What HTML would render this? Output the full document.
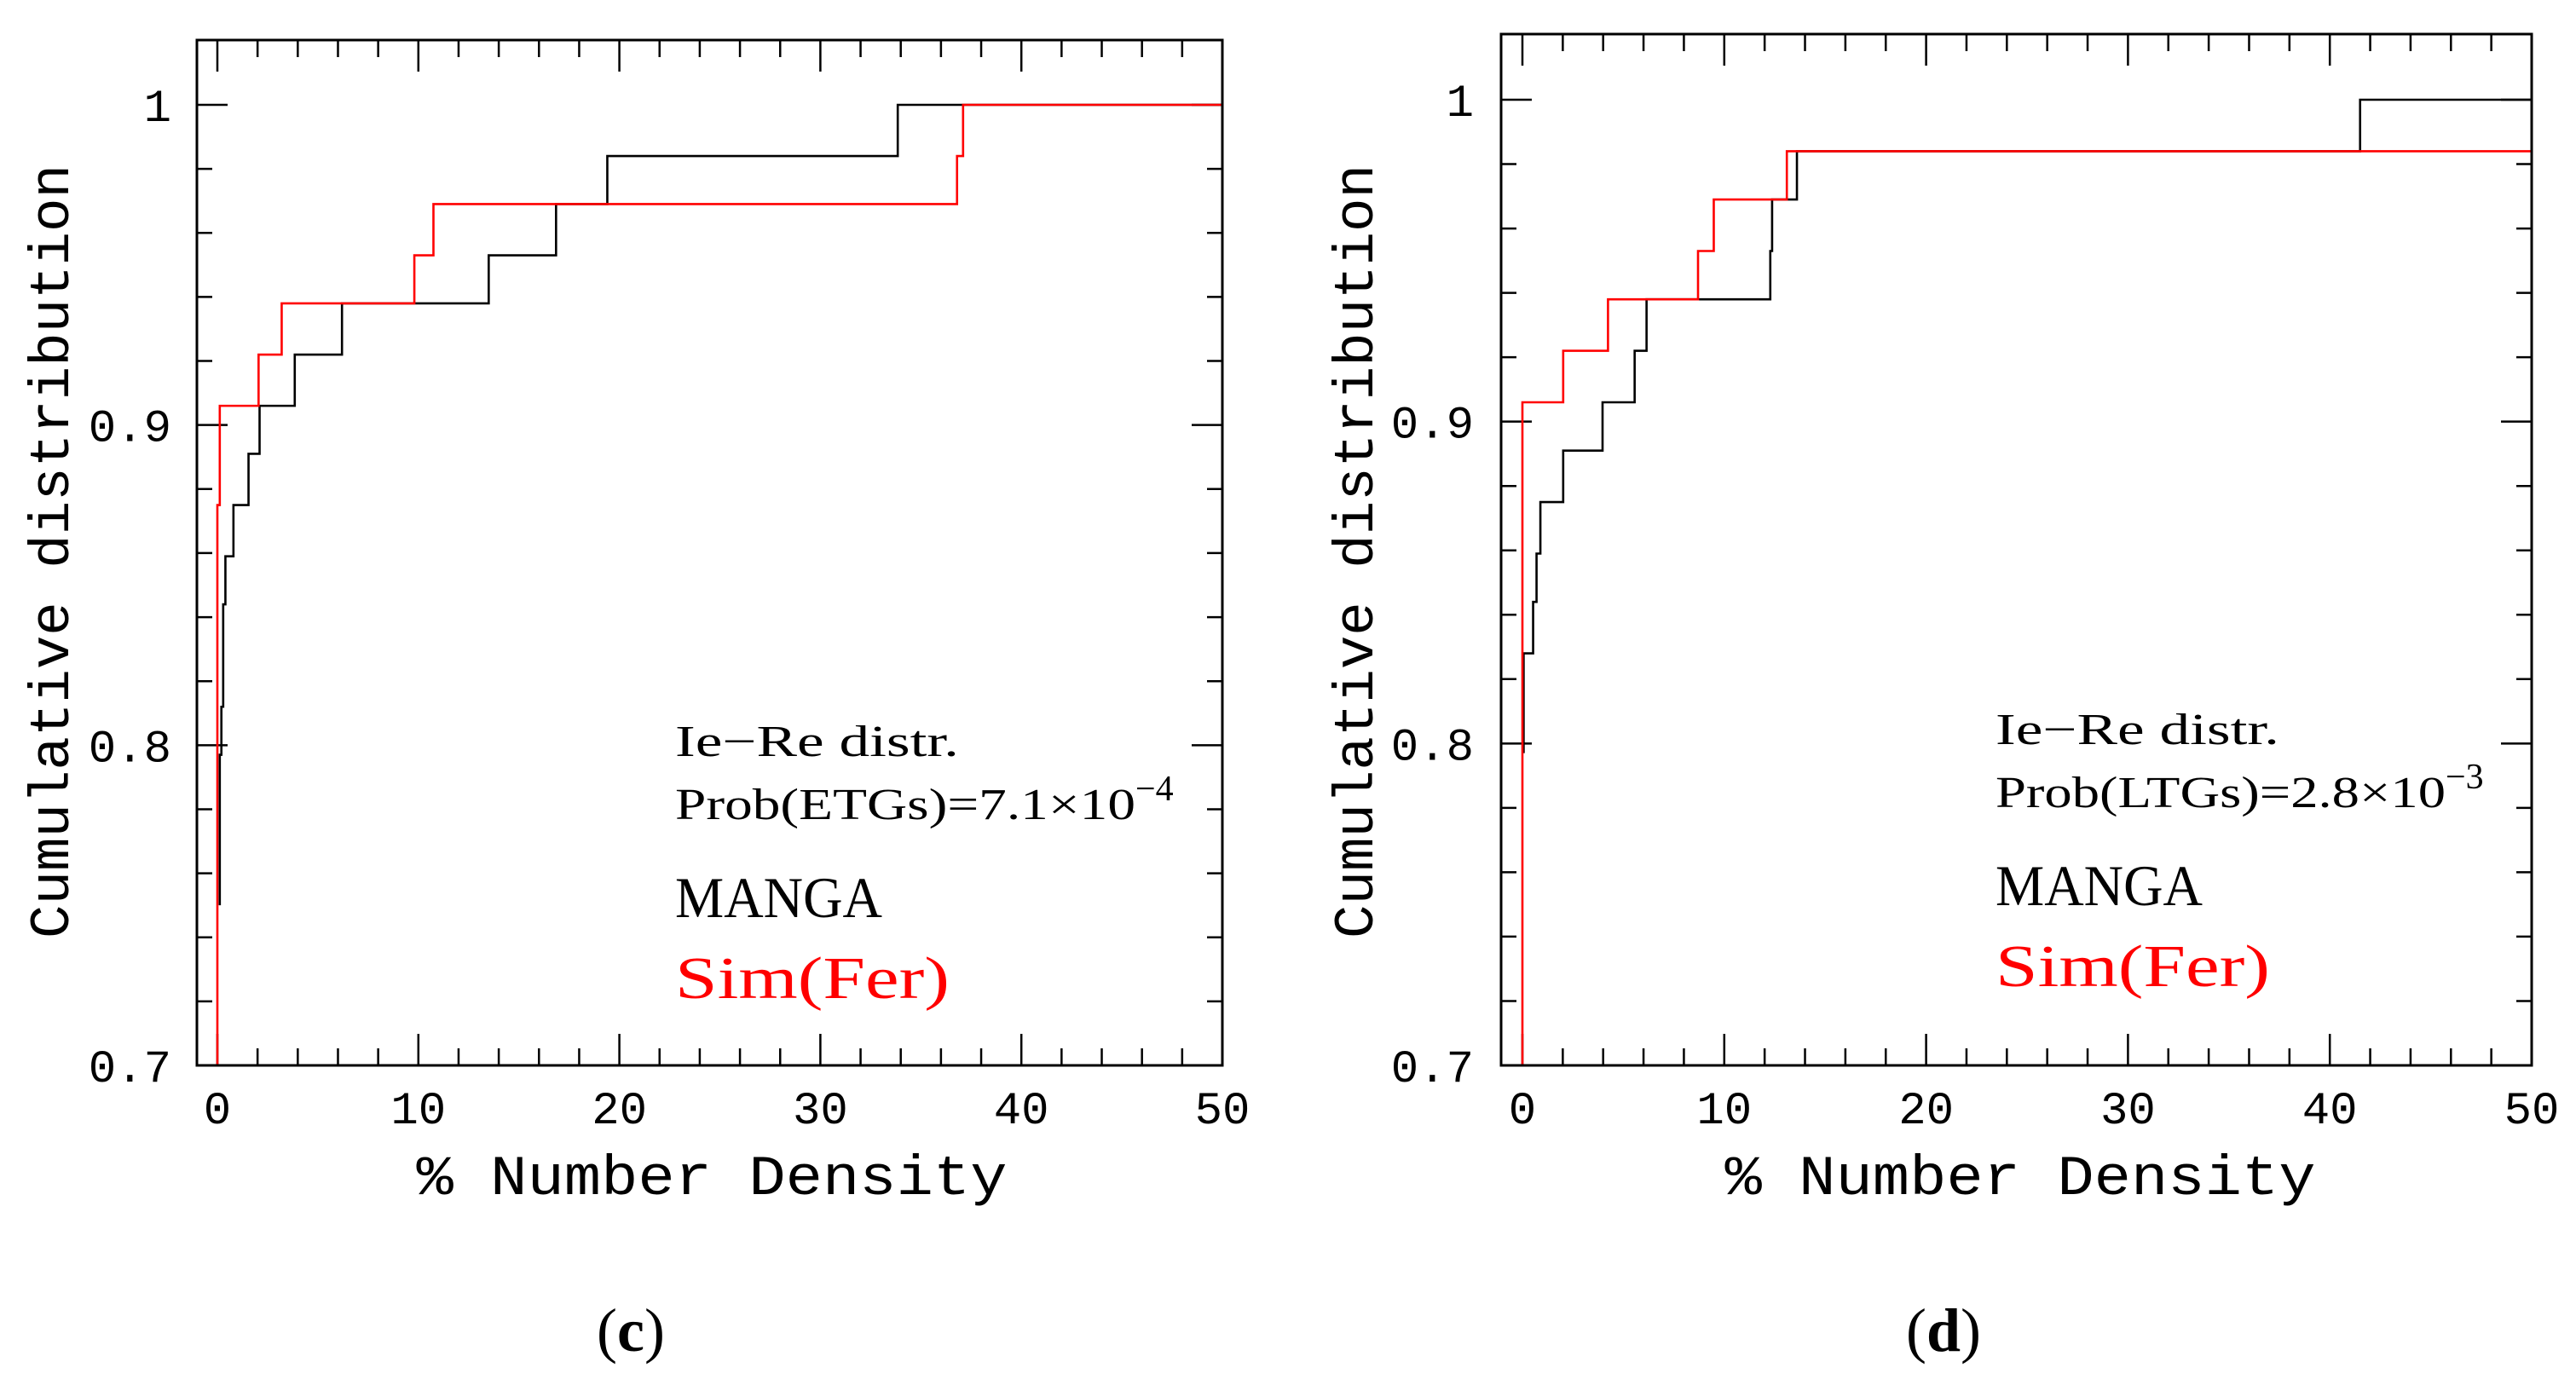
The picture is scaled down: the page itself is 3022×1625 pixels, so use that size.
<!DOCTYPE html>
<html><head><meta charset="utf-8"><style>
html,body{margin:0;padding:0;background:#fff;}
svg{display:block;}
.tick{font-family:"Liberation Mono",monospace;font-size:54px;fill:#000;}
.axl{font-family:"Liberation Mono",monospace;font-size:66px;fill:#000;}
.ann{font-family:"Liberation Serif",serif;fill:#000;}
</style></head><body>
<svg id="fig" width="3022" height="1625" viewBox="0 0 3022 1625" xmlns="http://www.w3.org/2000/svg"></svg>
<script>
// Panel (c) ETGs data
const cBlackX = [0.12,0.2,0.29,0.4,0.8,1.55,2.1,3.85,6.2,13.5,16.85,19.4,33.85];
const cBlackY = [0.797,0.812,0.844,0.859,0.875,0.891,0.906,0.922,0.938,0.953,0.969,0.984,1.0];
const cBlackStart = 0.75;
const cRedX = [0,0.12,2.05,3.2,9.8,10.75,36.8,37.1];
const cRedY = [0.875,0.906,0.922,0.938,0.953,0.969,0.984,1.0];
const cRedStart = 0.7;
// Panel (d) LTGs data
const dBlackX = [0.06,0.53,0.7,0.89,2.02,3.97,5.56,6.15,12.28,12.37,13.6,41.5];
const dBlackY = [0.828,0.844,0.859,0.875,0.891,0.906,0.922,0.938,0.953,0.969,0.984,1.0];
const dBlackStart = 0.797;
const dRedX = [0,2.02,4.24,8.7,9.48,13.1];
const dRedY = [0.906,0.922,0.938,0.953,0.969,0.984];
const dRedStart = 0.7;
const xTickLabels = ["0","10","20","30","40","50"];
const yTickLabels = ["0.7","0.8","0.9","1"];

const NS="http://www.w3.org/2000/svg";
const svg=document.getElementById('fig');
function mk(tag,attrs,parent){const e=document.createElementNS(NS,tag);for(const k in attrs)e.setAttribute(k,attrs[k]);(parent||svg).appendChild(e);return e;}

function panel(p){
  const g=mk('g',{});
  
  
  const L=p.L,R=p.R,T=p.T,B=p.B;
  const sx=v=>p.x0+(v-0)*(p.x50-p.x0)/50;
  const sy=v=>p.y07+(v-0.7)*(p.y1-p.y07)/0.3;
  for(let v=0;v<=50;v+=2){
    const major=v%10===0, len=major?37:20, x=sx(v);
    const t1=mk('line',{x1:x,y1:B,x2:x,y2:B-len,stroke:'#000','stroke-width':2.5},g);
    
    
    const t2=mk('line',{x1:x,y1:T,x2:x,y2:T+len,stroke:'#000','stroke-width':2.5},g);
    
    
  }
  for(let i=0;i<=15;i++){
    const v=0.7+i*0.02, major=i%5===0, len=major?36:18, y=sy(v);
    const t1=mk('line',{x1:L,y1:y,x2:L+len,y2:y,stroke:'#000','stroke-width':2.5},g);
    
    
    const t2=mk('line',{x1:R,y1:y,x2:R-len,y2:y,stroke:'#000','stroke-width':2.5},g);
    
    
  }
  xTickLabels.forEach(s=>{
    const t=mk('text',{x:sx(+s),y:1318,'text-anchor':'middle',class:'tick'},g);t.textContent=s;
    
    
  });
  yTickLabels.forEach(s=>{
    const t=mk('text',{x:p.ylabR,y:sy(+s)+19,'text-anchor':'end',class:'tick'},g);t.textContent=s;
    
    
  });
  function step(xs,ys,start,color,name){
    let d=`M${sx(xs[0])},${sy(start)}`;let prev=start;
    xs.forEach((x,i)=>{d+=` L${sx(x)},${sy(prev)} L${sx(x)},${sy(ys[i])}`;prev=ys[i];});
    d+=` L${sx(50)},${sy(prev)}`;
    const e=mk('path',{d:d,fill:'none',stroke:color,'stroke-width':2.6},g);
    
    
  }
  step(p.bx,p.by,p.bs,'#000','manga-line');
  step(p.rx,p.ry,p.rs,'#ff0000','sim-fer-line');
  const fr=mk('rect',{x:L,y:T,width:R-L,height:B-T,fill:'none',stroke:'#000','stroke-width':3},g);
  
  
  const yt=mk('text',{x:0,y:0,class:'axl','text-anchor':'middle',textLength:908,lengthAdjust:'spacingAndGlyphs',transform:`translate(${p.ytitleX},647) rotate(-90)`},g);
  yt.textContent='Cumulative distribution';
  
  
  const xt=mk('text',{x:p.xtitleX,y:1401,class:'axl','text-anchor':'middle',textLength:693,lengthAdjust:'spacingAndGlyphs'},g);
  xt.textContent='% Number Density';
  
  
  const a1=mk('text',{x:p.ax,y:p.ay,class:'ann','font-size':52,textLength:333,lengthAdjust:'spacingAndGlyphs'},g);
  a1.textContent='Ie\u2212Re distr.';
  
  
  const a2=mk('text',{x:p.ax,y:p.ay+74,class:'ann','font-size':52},g);
  
  
  const m=mk('tspan',{textLength:p.probW,lengthAdjust:'spacingAndGlyphs'},a2);m.textContent=p.prob;
  const ex=mk('tspan',{dy:-22,'font-size':42},a2);ex.textContent=p.exp;
  const a3=mk('text',{x:p.ax,y:p.ay+189,class:'ann','font-size':68,textLength:243,lengthAdjust:'spacingAndGlyphs'},g);
  a3.textContent='MANGA';
  
  
  const a4=mk('text',{x:p.ax,y:p.ay+284,class:'ann','font-size':70,textLength:322,lengthAdjust:'spacingAndGlyphs'},g);
  a4.style.fill='#ff0000';
  a4.textContent='Sim(Fer)';
  
  
  const cap=mk('text',{x:p.capX,y:1585,'text-anchor':'middle',class:'ann','font-size':72},g);
  
  
  const c1=mk('tspan',{},cap);c1.textContent='(';
  const c2=mk('tspan',{'font-weight':'bold'},cap);c2.textContent=p.cap;
  const c3=mk('tspan',{},cap);c3.textContent=')';
}
panel({name:'panel-c',L:231,R:1434,T:47,B:1250,x0:255,x50:1434,y07:1250,y1:123,ylabR:201,ytitleX:80,xtitleX:835,
  bx:cBlackX,by:cBlackY,bs:cBlackStart,rx:cRedX,ry:cRedY,rs:cRedStart,ax:792,ay:887,prob:'Prob(ETGs)=7.1\u00d710',probW:540,exp:'\u22124',capX:740,cap:'c'});
panel({name:'panel-d',L:1761,R:2970,T:40,B:1250,x0:1786,x50:2970,y07:1250,y1:117,ylabR:1729,ytitleX:1610,xtitleX:2370,
  bx:dBlackX,by:dBlackY,bs:dBlackStart,rx:dRedX,ry:dRedY,rs:dRedStart,ax:2341,ay:873,prob:'Prob(LTGs)=2.8\u00d710',probW:528,exp:'\u22123',capX:2280,cap:'d'});
</script>
</body></html>
